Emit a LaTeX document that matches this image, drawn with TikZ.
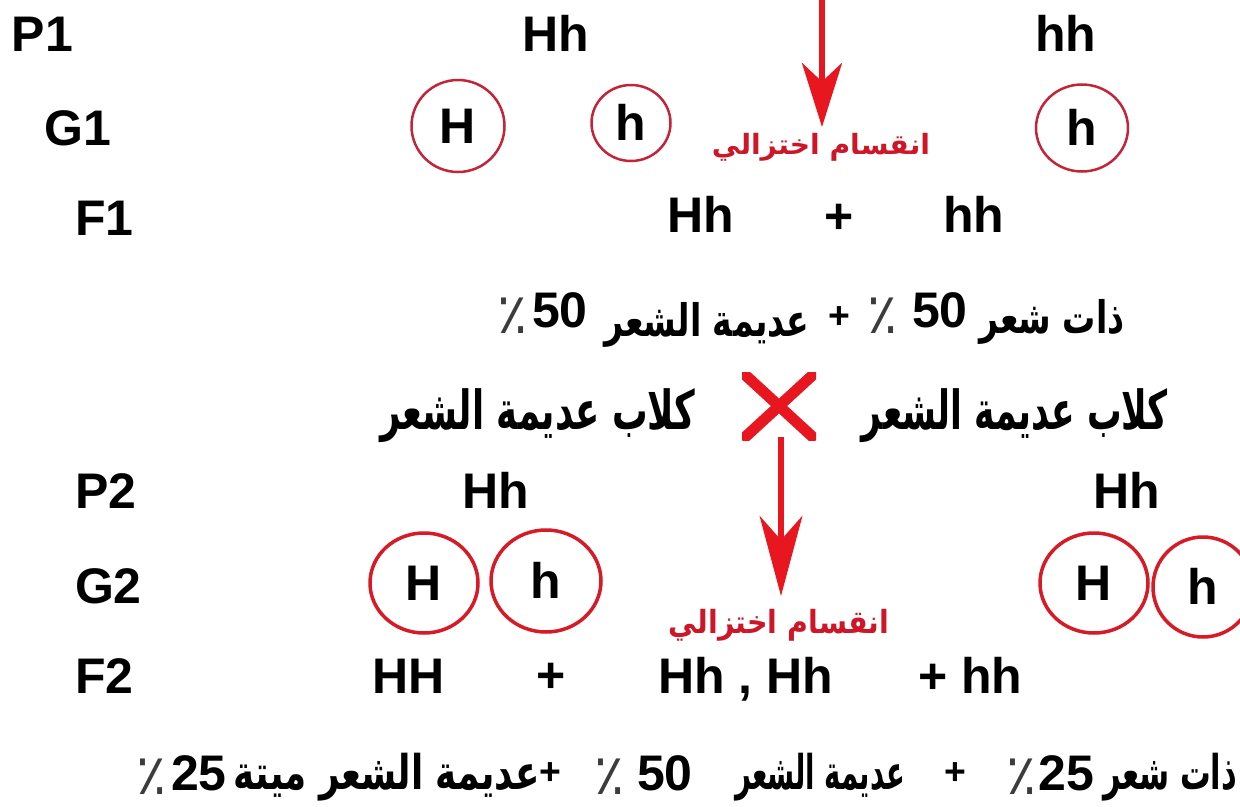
\documentclass[tikz,border=0pt]{standalone}
\usepackage{fontspec}
\usepackage{graphicx}
\setmainfont{Liberation Sans}
\newfontfamily\arabicfont[Script=Arabic]{DejaVu Sans}
\TeXXeTstate=1
\usetikzlibrary{arrows.meta,shapes.geometric}
\newlength\pxu \setlength\pxu{0.75pt}
\newcommand\arab[3]{\resizebox*{#1\pxu}{#2\pxu}{\arabicfont\bfseries #3}}
\newcommand\pcent{{\fontsize{42}{42}\selectfont\arabicfont ٪}}
\definecolor{arrowred}{RGB}{232,22,30}
\definecolor{circredA}{RGB}{196,36,56}
\definecolor{circredB}{RGB}{214,26,38}
\definecolor{textred}{RGB}{205,22,40}
\definecolor{pctgray}{RGB}{60,60,60}
\begin{document}
\begin{tikzpicture}[x=0.75pt,y=-0.75pt,
  every node/.style={inner sep=0pt, outer sep=0pt},
  lat/.style={font=\fontsize{37.5}{40}\selectfont\bfseries, anchor=base west},
  num/.style={font=\fontsize{37.5}{40}\selectfont\bfseries, anchor=base},
  bigplus/.style={font=\fontsize{37.5}{40}\selectfont\bfseries, anchor=center},
  smallplus/.style={font=\fontsize{28}{30}\selectfont\bfseries, anchor=center},
  pct/.style={anchor=base, text=pctgray},
  ar/.style={anchor=center},
  redlbl/.style={anchor=center, text=textred},
  gamA/.style={ellipse, draw=circredA, line width=2.5\pxu,
    font=\fontsize{37.5}{40}\selectfont\bfseries, text height=26.85pt, text depth=0pt},
  gamB/.style={ellipse, draw=circredB, line width=3.5\pxu,
    font=\fontsize{37.5}{40}\selectfont\bfseries, text height=26.85pt, text depth=0pt},
  redarrowA/.style={draw=arrowred, line width=6\pxu,
    -{Stealth[length=48pt, width=30pt, inset=14pt]}},
  redarrowB/.style={draw=arrowred, line width=6\pxu,
    -{Stealth[length=60pt, width=32pt, inset=18pt]}},
  crossmark/.style={minimum width=74\pxu, minimum height=68\pxu,
    path picture={\draw[arrowred, line width=11\pxu]
      (path picture bounding box.north west) -- (path picture bounding box.south east)
      (path picture bounding box.north east) -- (path picture bounding box.south west);}}
]
\useasboundingbox (0,0) rectangle (1240,807);

% ---- P1 row
\node[lat] (p1) at (12,51) {P1};
\node[lat] (p1a) at (522,51) {Hh};
\node[lat] (p1b) at (1035,51) {hh};

% ---- G1 row
\node[lat] (g1) at (45,145) {G1};
\node[gamA, minimum width=93\pxu, minimum height=92\pxu] (g1H) at (458,126) {H};
\node[gamA, minimum width=79\pxu, minimum height=76\pxu] (g1h) at (631,123) {h};
\node[gamA, minimum width=92\pxu, minimum height=87\pxu] (g1hr) at (1082,128) {h};
\node[redlbl] (lbl1) at (821,147) {\arab{218}{28}{\beginR انقسام اختزالي\endR}};
\coordinate (a1s) at (822,0);
\draw[redarrowA, shorten >=6\pxu] (a1s) -- (a1s |- lbl1.north);

% ---- F1 row
\node[lat] (f1) at (75,235) {F1};
\node[lat] (f1a) at (667,232) {Hh};
\node[bigplus] (f1p) at (839,219) {+};
\node[lat] (f1b) at (943,232) {hh};

% ---- ratio row 1
\node[pct] (r1pa) at (513,333) {\pcent};
\node[num] (r1na) at (560,327) {50};
\node[ar] (r1ta) at (707,325) {\arab{205}{45}{\beginR عديمة الشعر\endR}};
\node[smallplus] (r1p) at (839,318) {+};
\node[pct] (r1pb) at (883,333) {\pcent};
\node[num] (r1nb) at (940,327) {50};
\node[ar] (r1tb) at (1052,322) {\arab{145}{45}{\beginR ذات شعر\endR}};

% ---- cross row
\node[ar] (dogL) at (538,416) {\arab{315}{54}{\beginR كلاب عديمة الشعر\endR}};
\node[crossmark] (cross) at (779,406) {};
\node[ar] (dogR) at (1015,416) {\arab{306}{54}{\beginR كلاب عديمة الشعر\endR}};

% ---- P2 row
\node[lat] (p2) at (75,508) {P2};
\node[lat] (p2a) at (462,508) {Hh};
\node[lat] (p2b) at (1093,508) {Hh};

% ---- G2 row
\node[lat] (g2) at (75,603) {G2};
\node[gamB, minimum width=108\pxu, minimum height=100\pxu] (g2H) at (424,583) {H};
\node[gamB, minimum width=110\pxu, minimum height=102\pxu] (g2h) at (546,581) {h};
\node[gamB, minimum width=108\pxu, minimum height=100\pxu] (g2Hr) at (1094,583) {H};
\node[gamB, minimum width=100\pxu, minimum height=100\pxu] (g2hr) at (1203,587) {h};
\node[redlbl] (lbl2) at (779,625) {\arab{220}{32}{\beginR انقسام اختزالي\endR}};
\coordinate (a2s) at (781,437);
\draw[redarrowB, shorten >=13\pxu] (a2s) -- (a2s |- lbl2.north);

% ---- F2 row
\node[lat] (f2) at (75,693) {F2};
\node[lat] (f2a) at (372,693) {HH};
\node[bigplus] (f2p) at (551,678) {+};
\node[lat] (f2b) at (658,693) {Hh , Hh};
\node[lat] (f2c) at (918,693) {+ hh};

% ---- ratio row 2
\node[pct] (r2pa) at (152,794) {\pcent};
\node[num] (r2na) at (199,790) {25};
\node[ar] (r2ta) at (387,777) {\arab{306}{48}{\beginR عديمة الشعر ميتة\endR}};
\node[smallplus] (r2p1) at (550,774) {+};
\node[pct] (r2pb) at (610,794) {\pcent};
\node[num] (r2nb) at (665,790) {50};
\node[ar] (r2tb) at (820,777) {\arab{170}{48}{\beginR عديمة الشعر\endR}};
\node[smallplus] (r2p2) at (955,774) {+};
\node[pct] (r2pc) at (1022,794) {\pcent};
\node[num] (r2nc) at (1066,790) {25};
\node[ar] (r2tc) at (1170,777) {\arab{134}{48}{\beginR ذات شعر\endR}};
\end{tikzpicture}
\end{document}
